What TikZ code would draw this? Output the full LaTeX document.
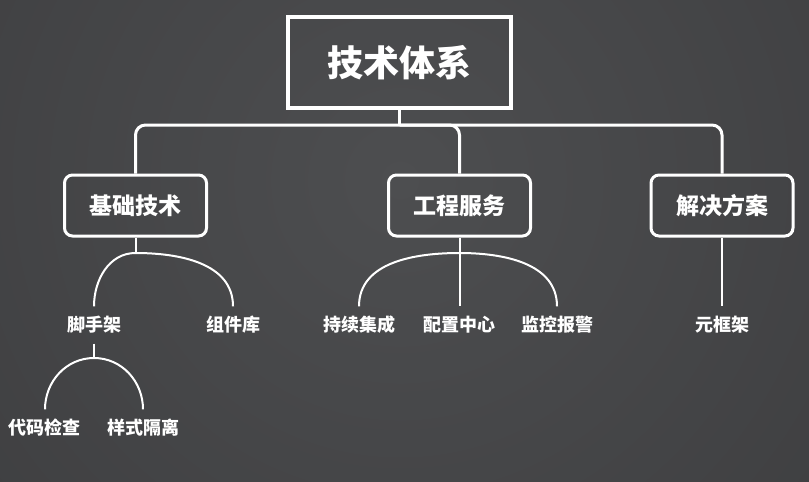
\documentclass[tikz,border=0pt]{standalone}
\usepackage{fontspec}
\newfontfamily\cjk{Noto Sans CJK SC}
\usepackage{tikz}
\usetikzlibrary{positioning}
\definecolor{bgin}{HTML}{4D4E50}
\definecolor{bgout}{HTML}{343436}
\tikzstyle{rootbox} = [rectangle, draw=white, line width=4.5pt, minimum width=223pt, minimum height=91pt,
    text=white, font=\cjk\bfseries\fontsize{36}{42}\selectfont]
\tikzstyle{block} = [rectangle, draw=white, line width=3pt, rounded corners=8pt, minimum width=142pt,
    minimum height=61pt, text=white, font=\cjk\bfseries\fontsize{23}{27}\selectfont]
\tikzstyle{leaf} = [inner xsep=2pt, inner ysep=9.5pt, text height=15pt, text depth=3pt,
    text=white, font=\cjk\bfseries\fontsize{18}{21}\selectfont]
\tikzstyle{line} = [draw=white, line width=2pt]
\tikzstyle{trunk} = [draw=white, line width=3pt, rounded corners=10pt]

\begin{document}
\begin{tikzpicture}[x=1pt, y=-1pt, node distance=119.5pt]
    \useasboundingbox (0,0) rectangle (809,482);
    % Background
    \begin{scope}
        \clip (0,0) rectangle (809,482);
        \shade [inner color=bgin, outer color=bgout] (-560,-780) rectangle (1360,1140);
    \end{scope}

    % Place nodes
    \node [rootbox] (root) at (399.5,62.5) {技术体系};
    \node [block] (base) at (135.5,205.5) {基础技术};
    \node [block] (eng) at (459.5,205.5) {工程服务};
    \node [block] (sol) at (722,205.5) {解决方案};

    \node [leaf] (scaffold) at (94,325) {脚手架};
    \node [leaf] (comp) at (233,325) {组件库};
    \node [leaf] (lint) at (45,428) {代码检查};
    \node [leaf] (isolate) at (143,428) {样式隔离};
    \node [leaf] (ci) at (359,325) {持续集成};
    \node [leaf, below of=eng] (conf) {配置中心};
    \node [leaf] (monitor) at (557,325) {监控报警};
    \node [leaf, below of=sol] (meta) {元框架};

    % Junctions
    \coordinate (hub) at (399.5,125);
    \coordinate (jbase) at (135.5,253);
    \coordinate (jeng) at (459.5,253);
    \coordinate (jscaf) at (94,358);

    % Draw edges
    \path [trunk] (root) -- (hub);
    \path [trunk] (base) |- (hub) -| (sol);
    \path [trunk] (hub) -| (eng);

    \path [line] (base) -- (jbase);
    \path [line] (scaffold) to[out=90,in=180] (jbase) to[out=0,in=90] (comp);
    \path [line] (scaffold) -- (jscaf);
    \path [line] (lint) to[out=90,in=180] (jscaf) to[out=0,in=90] (isolate);
    \path [line] (ci) to[out=90,in=180] (jeng) to[out=0,in=90] (monitor);
    \path [line] (eng) -- (conf);
    \path [line] (sol) -- (meta);

\end{tikzpicture}
\end{document}
